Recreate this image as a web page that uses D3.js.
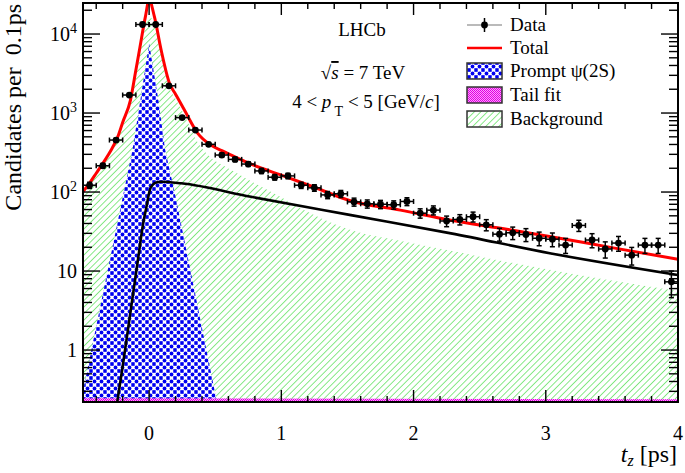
<!DOCTYPE html>
<html><head><meta charset="utf-8">
<script src="https://cdn.jsdelivr.net/npm/d3@7/dist/d3.min.js"></script>
<style>
html,body{margin:0;padding:0;background:#fff;}
svg{display:block;font-family:"Liberation Serif","Times New Roman",serif;}
</style></head><body>
<svg id="c" width="685" height="473"></svg>
<script>
// ---------- data ----------
const binCenters = [-0.45,-0.35,-0.25,-0.15,-0.05,0.05,0.15,0.25,0.35,0.45,0.55,0.65,0.75,0.85,0.95,
  1.05,1.15,1.25,1.35,1.45,1.55,1.65,1.75,1.85,1.95,2.05,2.15,2.25,2.35,2.45,2.55,2.65,2.75,2.85,2.95,
  3.05,3.15,3.25,3.35,3.45,3.55,3.65,3.75,3.85,3.95];
const counts = [122,215,455,1690,13200,13200,2210,875,609,402,294,259,226,185,154,
  160,122,113,92,95,75,71,70,69,76,54,59,43,45,48.7,38.5,29.3,30.5,29,26,
  25.3,21.3,37.8,24.7,19,22.6,15.9,21.3,21.3,7.3];
const countErrors = [11.0,14.7,21.3,41.1,114.9,114.9,47.0,29.6,24.7,20.0,17.1,16.1,15.0,13.6,12.4,
  12.6,11.0,10.6,9.6,9.7,8.7,8.4,8.4,8.3,8.7,7.3,7.7,6.6,6.7,7.0,6.2,5.4,5.5,5.4,5.1,
  5.0,4.6,6.1,5.0,4.4,4.8,4.0,4.6,4.6,2.7];
const binHalfWidth = 0.05;

const totalT = [-0.5,-0.45,-0.4,-0.35,-0.287,-0.237,-0.2,-0.141,-0.1,-0.073,-0.028,0,0.04,0.091,0.154,0.2,0.267,0.368,0.469,0.55,0.645,0.771,1.0,1.25,1.527,1.9,2.283,2.66,3.04,3.5,4.0];
const totalV = [101,130,173,231,340,500,760,1460,3500,6270,16600,27000,16600,6270,2380,1730,1090,553,390,334,280,225,164,115,77,59,44,34.7,27.2,19.8,14.1];

const promptT = [-0.5,-0.4,-0.3,-0.2,-0.126,-0.066,0,0.07,0.12,0.2,0.3,0.4,0.5,0.53];
const promptV = [0.30,2.0,13,85,340,1460,7600,1460,350,87,13,1.9,0.28,0.15];

const bT = [-0.245,-0.2,-0.121,-0.08,-0.045,-0.02,0.005,0.03,0.06,0.09,0.242,0.771,1.527,2.283,3.04,4.0];
const bV = [0.2,0.62,5.2,15.7,40,65,106,125,133,135,129,87,51,30,16.7,8.9];

const bkgT = [-0.5,-0.45,-0.4,-0.35,-0.3,-0.25,-0.2,-0.15,-0.1,-0.05,0,0.05,0.1,0.15,0.2,0.267,0.368,0.469,0.55,0.645,0.771,1.0,1.149,1.527,1.905,2.283,2.66,3.04,3.416,4.0];
const bkgV = [100,129,171,226,307,420,674,1080,2880,8100,17000,11200,4700,2160,1510,940,425,272,221,180,137,86,62,33,24,18,13.5,10.3,8.0,5.6];

const tailT = [-0.5,4.0];
const tailV = [0.245,0.238];

const xTickLabels = ["0","1","2","3","4"];
const yTickBases = ["1","10","10","10","10"];
const yTickExps = ["","","2","3","4"];
const legendLabels = ["Data","Total","Prompt \u03C8(2S)","Tail fit","Background"];

// ---------- layout ----------
const L=83,R=678,T=3,B=402;
const svg = d3.select("#c");
const x = d3.scaleLinear().domain([-0.5,4]).range([L,R]);
const y = d3.scaleLog().domain([0.22,24700]).range([B,T]);
const zip = (a,b)=>a.map((v,i)=>[v,b[i]]);

const defs = svg.append("defs");
defs.append("clipPath").attr("id","clip").append("rect")
  .attr("x",L).attr("y",T).attr("width",R-L).attr("height",B-T);

// green hatch (stripes rotated 45deg -> "/")
const pg = defs.append("pattern").attr("id","hatchG").attr("patternUnits","userSpaceOnUse")
  .attr("width",4.6).attr("height",4.6).attr("patternTransform","rotate(45)");
pg.append("rect").attr("x",0).attr("y",0).attr("width",0.7).attr("height",4.6).attr("fill","#55e055");
// blue dotted
const pb = defs.append("pattern").attr("id","dotB").attr("patternUnits","userSpaceOnUse")
  .attr("width",7).attr("height",7);
pb.append("rect").attr("width",7).attr("height",7).attr("fill","#fff");
pb.append("path").attr("d","M0,0 L7,7 M7,0 L0,7").attr("stroke","#7a7aff").attr("stroke-width",0.8);
[[0,0],[7,0],[0,7],[7,7],[3.5,3.5]].forEach(p=>pb.append("circle").attr("cx",p[0]).attr("cy",p[1]).attr("r",1.9).attr("fill","#0000f0"));
// magenta fine
const pm = defs.append("pattern").attr("id","dotM").attr("patternUnits","userSpaceOnUse")
  .attr("width",2).attr("height",2);
pm.append("rect").attr("width",2).attr("height",2).attr("fill","#ff9cff");
pm.append("rect").attr("width",1).attr("height",1).attr("fill","#e000e0");
pm.append("rect").attr("x",1).attr("y",1).attr("width",1).attr("height",1).attr("fill","#e000e0");

const plot = svg.append("g").attr("clip-path","url(#clip)");
const areaGen = c => d3.area().x(d=>x(d[0])).y0(B).y1(d=>y(d[1])).curve(c);
const lineGen = c => d3.line().x(d=>x(d[0])).y(d=>y(d[1])).curve(c);

plot.append("path").datum(zip(bkgT,bkgV)).attr("d",areaGen(d3.curveMonotoneX)).attr("fill","url(#hatchG)");
plot.append("path").datum(zip(promptT,promptV)).attr("d",areaGen(d3.curveLinear)).attr("fill","url(#dotB)");
plot.append("path").datum(zip(tailT,tailV)).attr("d",areaGen(d3.curveLinear)).attr("fill","url(#dotM)");
plot.append("path").datum(zip(bT,bV)).attr("d",lineGen(d3.curveMonotoneX))
  .attr("fill","none").attr("stroke","#000").attr("stroke-width",2.6);
plot.append("path").datum(zip(totalT,totalV)).attr("d",lineGen(d3.curveMonotoneX))
  .attr("fill","none").attr("stroke","#ff0000").attr("stroke-width",3);

// data points
const pts = plot.append("g").attr("stroke","#000").attr("stroke-width",1.5);
binCenters.forEach((t,i)=>{
  const cx=x(t), cy=y(counts[i]);
  const x0=x(t-binHalfWidth), x1=x(t+binHalfWidth);
  const y0=y(counts[i]-countErrors[i]), y1=y(counts[i]+countErrors[i]);
  const g=pts.append("g");
  g.append("line").attr("x1",x0).attr("x2",x1).attr("y1",cy).attr("y2",cy);
  g.append("line").attr("x1",cx).attr("x2",cx).attr("y1",y0).attr("y2",y1);
  g.append("line").attr("x1",x0).attr("x2",x0).attr("y1",cy-2.5).attr("y2",cy+2.5);
  g.append("line").attr("x1",x1).attr("x2",x1).attr("y1",cy-2.5).attr("y2",cy+2.5);
  g.append("line").attr("x1",cx-2.5).attr("x2",cx+2.5).attr("y1",y0).attr("y2",y0);
  g.append("line").attr("x1",cx-2.5).attr("x2",cx+2.5).attr("y1",y1).attr("y2",y1);
  g.append("circle").attr("cx",cx).attr("cy",cy).attr("r",3.4).attr("fill","#000").attr("stroke","none");
});

// axes ticks
const ax = svg.append("g").attr("stroke","#000").attr("stroke-width",1.4);
x.ticks(22).forEach(t=>{
  const major = Math.abs(t-Math.round(t))<1e-6;
  const len = major?12:6;
  ax.append("line").attr("x1",x(t)).attr("x2",x(t)).attr("y1",B).attr("y2",B-len);
  ax.append("line").attr("x1",x(t)).attr("x2",x(t)).attr("y1",T).attr("y2",T+len);
});
y.ticks().forEach(v=>{
  const lg=Math.log10(v);
  const major = Math.abs(lg-Math.round(lg))<1e-6;
  const len = major?17:9;
  ax.append("line").attr("x1",L).attr("x2",L+len).attr("y1",y(v)).attr("y2",y(v));
  ax.append("line").attr("x1",R).attr("x2",R-len).attr("y1",y(v)).attr("y2",y(v));
});
svg.append("rect").attr("x",L).attr("y",T).attr("width",R-L).attr("height",B-T)
  .attr("fill","none").attr("stroke","#000").attr("stroke-width",2);

// tick labels
xTickLabels.forEach(s=>{
  svg.append("text").attr("x",x(+s)).attr("y",440).attr("text-anchor","middle")
    .attr("font-size",20).text(s);
});
yTickBases.forEach((b,i)=>{
  const v = Math.pow(10,i);
  const tx = svg.append("text").attr("x",77).attr("y",y(v)+7).attr("text-anchor","end").attr("font-size",20);
  tx.append("tspan").text(b);
  if (yTickExps[i]) tx.append("tspan").attr("dy",-8).attr("font-size",14).text(yTickExps[i]);
});

// axis titles
svg.append("text").attr("transform","translate(21,4) rotate(-90)").attr("text-anchor","end")
  .attr("font-size",24).style("white-space","pre").text("Candidates per  0.1ps");
const xt = svg.append("text").attr("x",677).attr("y",462).attr("text-anchor","end").attr("font-size",24);
xt.append("tspan").attr("font-style","italic").text("t");
xt.append("tspan").attr("font-style","italic").attr("font-size",16).attr("dy",4).text("z");
xt.append("tspan").attr("dy",-4).style("white-space","pre").text(" [ps]");

// LHCb text
svg.append("text").attr("x",362).attr("y",36).attr("text-anchor","middle").attr("font-size",19).text("LHCb");
const rs = svg.append("text").attr("x",363).attr("y",79).attr("text-anchor","middle").attr("font-size",19).style("white-space","pre");
rs.append("tspan").text("\u221A");
rs.append("tspan").attr("font-style","italic").style("text-decoration","overline").text("s");
rs.append("tspan").text(" = 7 TeV");
const pt = svg.append("text").attr("x",366).attr("y",108).attr("text-anchor","middle").attr("font-size",19).style("white-space","pre");
pt.append("tspan").text("4 < ");
pt.append("tspan").attr("font-style","italic").text("p");
pt.append("tspan").attr("font-size",14).attr("dy",8).text(" T");
pt.append("tspan").attr("dy",-8).text(" < 5 [GeV/");
pt.append("tspan").attr("font-style","italic").text("c");
pt.append("tspan").text("]");

// legend
const lg = svg.append("g");
const lx0=467, lx1=502, ltx=510;
const rowsY=[25,48,71,95,119];
lg.append("line").attr("x1",lx0).attr("x2",lx1).attr("y1",rowsY[0]).attr("y2",rowsY[0]).attr("stroke","#777").attr("stroke-width",1.2);
lg.append("line").attr("x1",(lx0+lx1)/2).attr("x2",(lx0+lx1)/2).attr("y1",rowsY[0]-7).attr("y2",rowsY[0]+7).attr("stroke","#000").attr("stroke-width",1.5);
lg.append("circle").attr("cx",(lx0+lx1)/2).attr("cy",rowsY[0]).attr("r",3.4).attr("fill","#000");
lg.append("line").attr("x1",lx0).attr("x2",lx1).attr("y1",rowsY[1]).attr("y2",rowsY[1]).attr("stroke","#ff0000").attr("stroke-width",2.5);
["url(#dotB)","url(#dotM)","url(#hatchG)"].forEach((f,i)=>{
  lg.append("rect").attr("x",lx0).attr("y",rowsY[i+2]-8).attr("width",lx1-lx0).attr("height",16)
    .attr("fill",f).attr("stroke","#333").attr("stroke-width",1.5);
});
legendLabels.forEach((s,i)=>{
  lg.append("text").attr("x",ltx).attr("y",rowsY[i]+6).attr("font-size",19).text(s);
});
</script>
</body></html>
